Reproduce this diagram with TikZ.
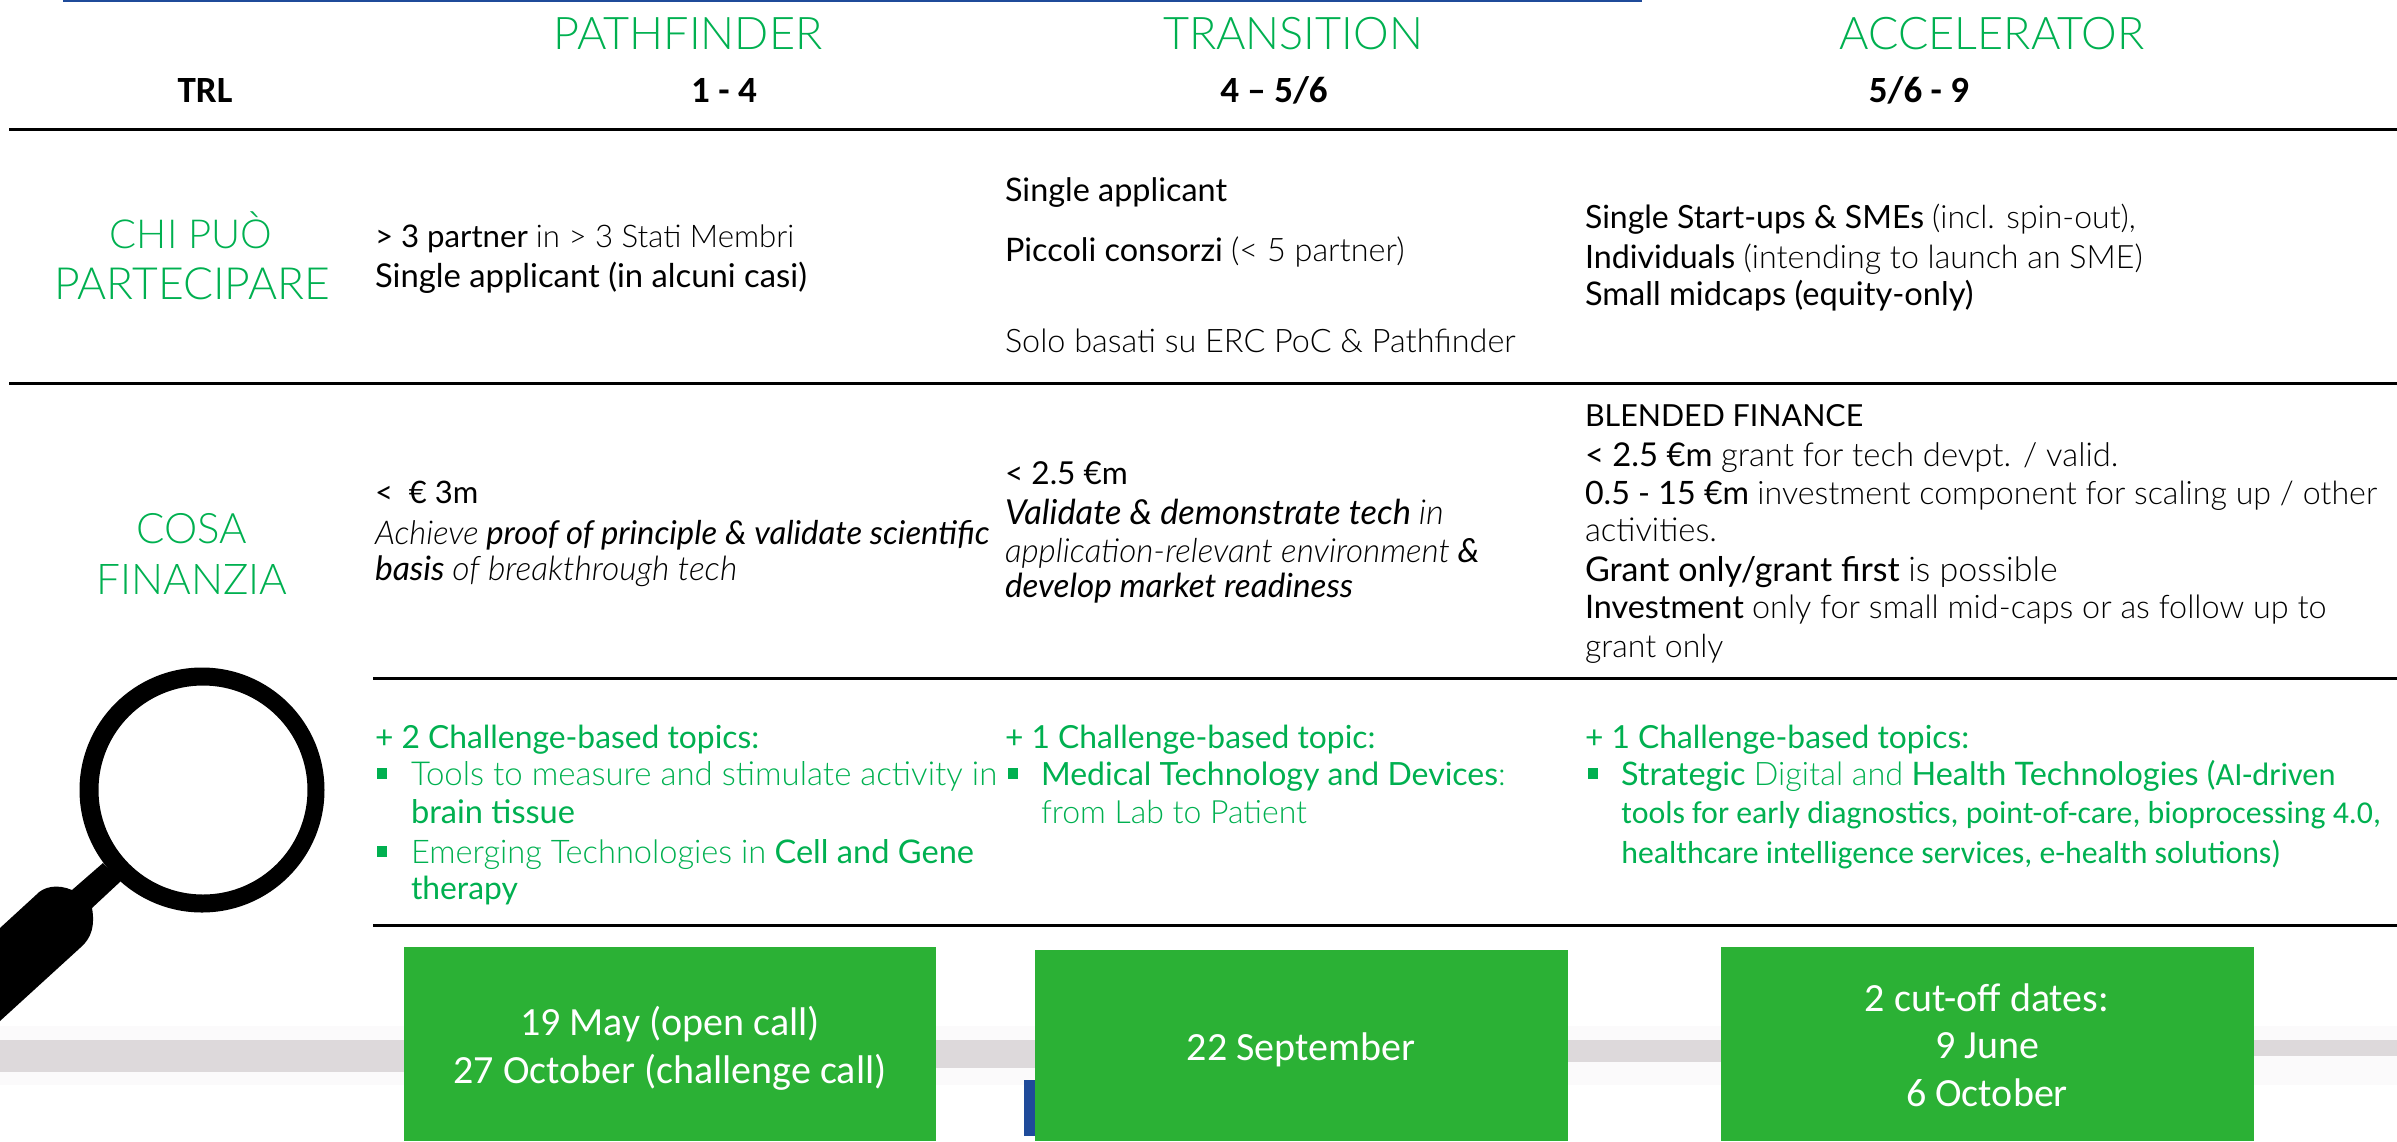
\documentclass[tikz,border=0pt]{standalone}
\usepackage{fontspec}
\setmainfont{Lato}
\newfontfamily\lightf{Lato Light}
\newfontfamily\calib{Carlito}
\definecolor{tgreen}{HTML}{00B050}
\definecolor{boxgreen}{HTML}{2BB135}
\definecolor{bandgrey}{HTML}{DDD9DB}
\definecolor{bandhalo}{HTML}{FBFAFB}
\definecolor{topblue}{HTML}{1F4B9A}
\newcommand{\Lt}[1]{{\lightf #1}}
\tikzset{
  x=0.5pt,y=-0.5pt,
  txt/.style={anchor=base west,inner sep=0pt,outer sep=0pt,font=\fontsize{#1}{18}\selectfont,text=black},
  gtxt/.style={txt=#1,text=tgreen},
  title/.style={anchor=base,inner sep=0pt,font=\lightf\fontsize{22.5}{26}\selectfont,text=tgreen},
  rowhead/.style={anchor=base,inner sep=0pt,font=\lightf\fontsize{#1}{26}\selectfont,text=tgreen},
  trl/.style={anchor=base,inner sep=0pt,font=\calib\bfseries\fontsize{18.5}{20}\selectfont,text=black},
  rulee/.style={line width=1.5pt,black},
  datebox/.style={fill=boxgreen,draw=none},
  datetxt/.style={anchor=base,inner sep=0pt,font=\calib\fontsize{20}{22}\selectfont,text=white},
  bul/.style={fill=tgreen,draw=none},
  caltxt/.style={anchor=base west,inner sep=0pt,font=\calib\fontsize{15.9}{18}\selectfont,text=tgreen}
}
\begin{document}
\begin{tikzpicture}
\useasboundingbox (0,0) rectangle (2397,1141);
% grey band and blue fragment
\fill[bandhalo] (0,1026) rectangle (2397,1085);
\fill[bandgrey] (0,1040) rectangle (404,1072);
\fill[bandgrey] (936,1040) rectangle (1035,1068);
\fill[bandgrey] (1568,1040) rectangle (1721,1062);
\fill[bandgrey] (2254,1040) rectangle (2397,1056);
\fill[topblue] (1024,1080) rectangle (1036,1136);
% top line and rules
\coordinate (tl) at (63,1); \coordinate (tr) at (1642,1);
\draw[topblue,line width=1pt] (tl) -- (tr);
\coordinate (r1a) at (9,129); \coordinate (r1b) at (2397,129);
\coordinate (r2a) at (9,383); \coordinate (r2b) at (2397,383);
\coordinate (r3a) at (373,678); \coordinate (r3b) at (2397,678);
\coordinate (r4a) at (373,925); \coordinate (r4b) at (2397,925);
\draw[rulee] (r1a) -- (r1b);
\draw[rulee] (r2a) -- (r2b);
\draw[rulee] (r3a) -- (r3b);
\draw[rulee] (r4a) -- (r4b);
% magnifier
\fill[black,even odd rule] (202,790) circle (122.5) (203,790) circle (104.5);
\fill[black] (103,863) -- (121,881) -- (92,908)
  .. controls (95,925) and (92,938) .. (80,948) -- (0,1021) -- (0,928) -- (36,895)
  .. controls (44,886) and (58,884) .. (72,890) -- cycle;
% headers
\node[title] (hp) at (688,49) {PATHFINDER};
\node[title] (ht) at (1293,49) {TRANSITION};
\node[title] (ha) at (1992,49) {ACCELERATOR};
\node[trl] (t0) at (205,102) {TRL};
\node[trl] (t1) at (724,102) {1 - 4};
\node[trl] (t2) at (1274,102) {4 – 5/6};
\node[trl] (t3) at (1919,102) {5/6 - 9};
% row heads
\node[rowhead=20] (c1) at (191,248) {CHI PUÒ};
\node[rowhead=22.2] (c2) at (192,299) {PARTECIPARE};
\node[rowhead=21] (f1) at (192,543) {COSA};
\node[rowhead=21.2] (f2) at (192,594) {FINANZIA};
% row 1
\node[txt=15.6] (a1) at (375,247) {> 3 partner \Lt{in > 3 Stati Membri}};
\node[txt=16.4] (a2) at (375,287) {Single applicant (in alcuni casi)};
\node[txt=16.2] (b1) at (1005,201) {Single applicant};
\node[txt=16.2] (b2) at (1005,261) {Piccoli consorzi \Lt{(< 5 partner)}};
\node[txt=16.2] (b3) at (1005,352) {\Lt{Solo basati su ERC PoC \& Pathfinder}};
\node[txt=16] (d1) at (1585,228) {Single Start-ups \& SMEs \Lt{(incl. spin-out),}};
\node[txt=16.1] (d2) at (1585,268) {Individuals \Lt{(intending to launch an SME)}};
\node[txt=16.3] (d3) at (1585,305) {Small midcaps (equity-only)};
% row 2
\node[txt=15.5] (e1) at (375,503) {<\ \ € 3m};
\node[txt=16.4] (e2) at (375,544) {\itshape\Lt{\itshape Achieve} proof of principle \& validate scientific};
\node[txt=16.8] (e3) at (375,580) {\itshape basis \Lt{\itshape of breakthrough tech}};
\node[txt=15.8] (g1) at (1005,484) {< 2.5 €m};
\node[txt=17.2] (g2) at (1005,524) {\itshape Validate \& demonstrate tech \Lt{\itshape in}};
\node[txt=16.6] (g3) at (1005,562) {\itshape\Lt{\itshape application-relevant environment} \&};
\node[txt=16.6] (g4) at (1005,597) {\itshape develop market readiness};
\node[txt=15.2] (h1) at (1585,426) {BLENDED FINANCE};
\node[txt=16.4] (h2) at (1585,466) {< 2.5 €m \Lt{grant for tech devpt. / valid.}};
\node[txt=16.1] (h3) at (1585,504) {0.5 - 15 €m \Lt{investment component for scaling up / other}};
\node[txt=16.4] (h4) at (1585,541) {\Lt{activities.}};
\node[txt=17] (h5) at (1585,581) {Grant only/grant first \Lt{is possible}};
\node[txt=16.2] (h6) at (1585,618) {Investment \Lt{only for small mid-caps or as follow up to}};
\node[txt=16] (h7) at (1585,657) {\Lt{grant only}};
% row 3
\node[gtxt=15.9] (i1) at (375,748) {+ 2 Challenge-based topics:};
\fill[bul] (377,768) rectangle (387,779);
\node[gtxt=16.5] (i2) at (411,785) {\Lt{Tools to measure and stimulate activity in}};
\node[gtxt=16.3] (i3) at (411,823) {brain tissue};
\fill[bul] (377,846) rectangle (387,857);
\node[gtxt=16.3] (i4) at (411,863) {\Lt{Emerging Technologies in} Cell and Gene};
\node[gtxt=15.9] (i5) at (411,899) {therapy};
\node[gtxt=15.9] (j1) at (1005,748) {+ 1 Challenge-based topic:};
\fill[bul] (1008,768) rectangle (1018,779);
\node[gtxt=16] (j2) at (1041,785) {Medical Technology and Devices\Lt{:}};
\node[gtxt=16] (j3) at (1041,823) {\Lt{from Lab to Patient}};
\node[gtxt=15.9] (k1) at (1585,748) {+ 1 Challenge-based topics:};
\fill[bul] (1588,768) rectangle (1598,779);
\node[gtxt=16.2] (k2) at (1621,785) {Strategic \Lt{Digital and} Health Technologies ({\calib AI-driven}};
\node[caltxt] (k3) at (1621,823) {tools for early diagnostics, point-of-care, bioprocessing 4.0,};
\node[caltxt] (k4) at (1621,863) {healthcare intelligence services, e-health solutions)};
% date boxes
\fill[datebox] (404,947) rectangle (936,1141);
\fill[datebox] (1035,950) rectangle (1568,1141);
\fill[datebox] (1721,947) rectangle (2254,1141);
\node[datetxt] (m1) at (670,1035) {19 May (open call)};
\node[datetxt] (m2) at (670,1083) {27 October (challenge call)};
\node[datetxt] (n1) at (1301,1060) {22 September};
\node[datetxt] (o1) at (1987,1011) {2 cut-off dates:};
\node[datetxt] (o2) at (1987,1058) {9 June};
\node[datetxt] (o3) at (1987,1106) {6 October};
\end{tikzpicture}
\end{document}
